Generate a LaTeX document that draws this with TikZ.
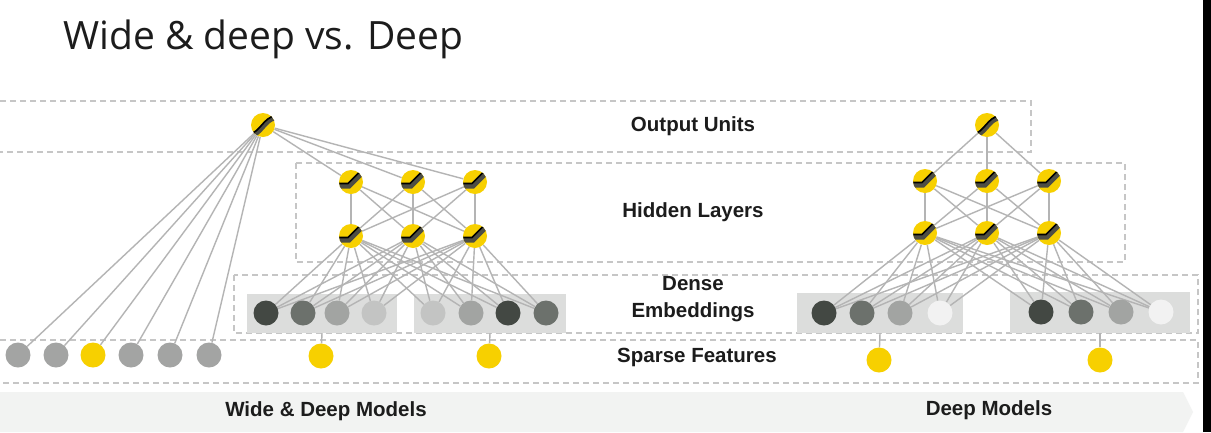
\documentclass[tikz,border=0pt]{standalone}
\usepackage{fontspec}
\setmainfont{Liberation Sans}
\newfontfamily\titlefont{Open Sans}
\pgfdeclarelayer{bg}
\pgfdeclarelayer{edges}
\pgfsetlayers{bg,edges,main}
\definecolor{yel}{HTML}{F7D000}
\definecolor{edgec}{HTML}{B4B4B4}
\definecolor{dashc}{HTML}{C6C6C6}
\definecolor{ea}{HTML}{434843}
\definecolor{eb}{HTML}{6C716C}
\definecolor{ec}{HTML}{A2A4A2}
\definecolor{ed}{HTML}{C3C4C3}
\definecolor{ee}{HTML}{F2F2F2}
\definecolor{eboxc}{HTML}{DCDDDC}
\definecolor{sg}{HTML}{A3A4A3}
\definecolor{bannerc}{HTML}{F2F3F2}
\definecolor{icond}{HTML}{4E4E44}
\definecolor{textc}{HTML}{1C1C1C}
\begin{document}
\begin{tikzpicture}[x=1pt,y=-1pt,
  unit/.style={circle, minimum size=24, inner sep=0pt, fill=yel},
  sigm/.style={unit, path picture={
    \draw[line width=5, icond] ([shift={(-12,10)}]path picture bounding box.center)
      .. controls ([shift={(-3,10)}]path picture bounding box.center) and ([shift={(2,-6)}]path picture bounding box.center)
      .. ([shift={(12,-7)}]path picture bounding box.center);
    \draw[line width=1.6, black] ([shift={(-12,8)}]path picture bounding box.center)
      .. controls ([shift={(-4,8)}]path picture bounding box.center) and ([shift={(1,-8)}]path picture bounding box.center)
      .. ([shift={(12,-9)}]path picture bounding box.center);}},
  relu/.style={unit, path picture={
    \draw[line width=5, icond] ([shift={(-14,4)}]path picture bounding box.center)
      -- ([shift={(-2,4)}]path picture bounding box.center) -- ([shift={(10,-8)}]path picture bounding box.center);
    \draw[line width=1.6, black] ([shift={(-14,1.5)}]path picture bounding box.center)
      -- ([shift={(-3,1.5)}]path picture bounding box.center) -- ([shift={(8,-9.5)}]path picture bounding box.center);}},
  emb/.style={circle, minimum size=25, inner sep=0pt, fill=#1},
  sparse/.style={circle, minimum size=25, inner sep=0pt, fill=#1},
  ebox/.style={rectangle, fill=eboxc, inner sep=0pt},
  conn/.style={draw=edgec, line width=1.4},
  dashbox/.style={draw=dashc, line width=1.5, dash pattern=on 6pt off 4pt},
  lab/.style={font=\fontsize{20.5}{27}\selectfont\bfseries, text=textc, align=center, inner sep=0pt}
]
\useasboundingbox (0,0) rectangle (1211,432);

\begin{pgfonlayer}{bg}
  \fill[white] (0,0) rectangle (1211,432);
  \fill[black] (1203,0) rectangle (1211,432);
  \fill[bannerc] (0,392) -- (1183,392) -- (1193,412) -- (1183,432) -- (0,432) -- cycle;
  \draw[dashbox] (0,101) -- (1031,101) -- (1031,152) -- (0,152);
  \draw[dashbox] (296,163) rectangle (1125,262);
  \draw[dashbox] (234,275) rectangle (1198,333);
  \draw[dashbox] (0,340) -- (1198,340) -- (1198,383) -- (0,383);
\end{pgfonlayer}

% title
\node[anchor=base west, inner sep=0pt, font=\titlefont\fontsize{39}{46}\selectfont, text=textc] (title) at (63,49) {Wide \& deep vs. Deep};

% labels
\node[lab] (lout) at (693,126) {Output Units};
\node[lab] (lhid) at (693,212) {Hidden Layers};
\node[lab] (lemb) at (693,299) {Dense\\Embeddings};
\node[lab] (lsp) at (697,357) {Sparse Features};
\node[lab] (lwd) at (326,411) {Wide \& Deep Models};
\node[lab] (ldp) at (989,410) {Deep Models};

% ---------- Wide & Deep ----------
\node[sigm] (wo) at (263,125) {};
\node[relu] (wt1) at (351,182) {};
\node[relu] (wt2) at (413,182) {};
\node[relu] (wt3) at (475,182) {};
\node[relu] (wb1) at (351,236) {};
\node[relu] (wb2) at (413,236) {};
\node[relu] (wb3) at (475,236) {};

\begin{pgfonlayer}{bg}
\node[ebox, minimum width=150, minimum height=39] (wbox1) at (322,313.5) {};
\node[ebox, minimum width=152, minimum height=39] (wbox2) at (490,313.5) {};
\end{pgfonlayer}
\node[emb=ea] (we1) at (266,313) {};
\node[emb=eb] (we2) at (303,313) {};
\node[emb=ec] (we3) at (337,313) {};
\node[emb=ed] (we4) at (374,313) {};
\node[emb=ed] (we5) at (433,313) {};
\node[emb=ec] (we6) at (471,313) {};
\node[emb=ea] (we7) at (508,313) {};
\node[emb=eb] (we8) at (546,313) {};

\node[sparse=sg] (ws1) at (18,355) {};
\node[sparse=sg] (ws2) at (56,355) {};
\node[sparse=yel] (ws3) at (93,355) {};
\node[sparse=sg] (ws4) at (131,355) {};
\node[sparse=sg] (ws5) at (170,355) {};
\node[sparse=sg] (ws6) at (209,355) {};
\node[sparse=yel] (wy1) at (321,356) {};
\node[sparse=yel] (wy2) at (489,356) {};

% ---------- Deep ----------
\node[sigm] (do) at (987,125) {};
\node[relu] (dt1) at (925,181) {};
\node[relu] (dt2) at (987,181) {};
\node[relu] (dt3) at (1049,181) {};
\node[relu] (db1) at (925,233) {};
\node[relu] (db2) at (987,233) {};
\node[relu] (db3) at (1049,233) {};

\begin{pgfonlayer}{bg}
\node[ebox, minimum width=166, minimum height=40] (dbox1) at (880,313) {};
\node[ebox, minimum width=180, minimum height=41] (dbox2) at (1100,312.5) {};
\end{pgfonlayer}
\node[emb=ea] (de1) at (824,313) {};
\node[emb=eb] (de2) at (862,313) {};
\node[emb=ec] (de3) at (900,313) {};
\node[emb=ee] (de4) at (940,313) {};
\node[emb=ea] (de5) at (1041,312) {};
\node[emb=eb] (de6) at (1081,312) {};
\node[emb=ec] (de7) at (1121,312) {};
\node[emb=ee] (de8) at (1161,312) {};

\node[sparse=yel] (dy1) at (879,360) {};
\node[sparse=yel] (dy2) at (1100,360) {};

% ---------- connectors ----------
\begin{pgfonlayer}{edges}
  \foreach \i in {1,...,6} \draw[conn] (wo) -- (ws\i);
  \foreach \i in {1,2,3} {
    \draw[conn] (wo) -- (wt\i);
    \draw[conn] (do) -- (dt\i);
    \foreach \j in {1,2,3} {
      \draw[conn] (wt\i) -- (wb\j);
      \draw[conn] (dt\i) -- (db\j);
    }
    \foreach \k in {1,...,8} {
      \draw[conn] (wb\i) -- (we\k);
      \draw[conn] (db\i) -- (de\k);
    }
  }
  \draw[conn] (wbox1.south) -- (wy1);
  \draw[conn] (wbox2.south) -- (wy2);
  \draw[conn] (dbox1.south) -- (dy1);
  \draw[conn] (dbox2.south) -- (dy2);
\end{pgfonlayer}
\end{tikzpicture}
\end{document}
